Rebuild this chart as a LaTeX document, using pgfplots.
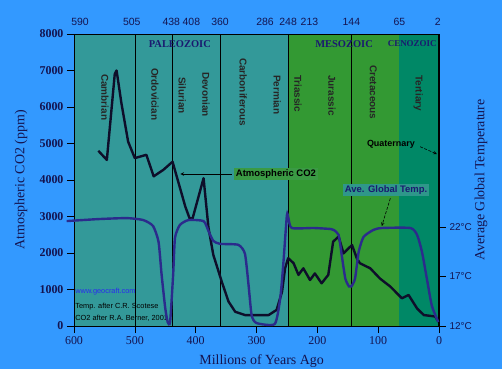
\documentclass[border=0pt]{standalone}
\usepackage{pgfplots}
\pgfplotsset{compat=1.18}
\usepackage{fontspec}
\setmainfont{Liberation Serif}
\setsansfont{Liberation Sans}
\definecolor{bgblue}{HTML}{3399FF}
\definecolor{paleo}{HTML}{339999}
\definecolor{meso}{HTML}{339933}
\definecolor{ceno}{HTML}{008866}
\definecolor{txtnavy}{HTML}{141450}
\definecolor{eranavy}{HTML}{1A1A70}
\definecolor{co2line}{HTML}{0E0E2A}
\definecolor{templine}{HTML}{2B2B8C}
\definecolor{labgreen}{HTML}{3A9A44}
\definecolor{labteal}{HTML}{2F978A}
\definecolor{linkblue}{HTML}{2A2AF0}

\pgfplotstableread{
x y
560 4800
546 4550
533 6900
530 7000
522 6100
511 5050
500 4600
481 4690
469 4100
453 4280
438 4500
417 3270
410 2950
405 2950
387 4050
379 2700
371 1950
357 1210
346 670
335 390
319 300
280 300
267 440
258 940
253 1580
248 1860
239 1720
231 1400
223 1580
212 1260
204 1440
193 1170
182 1400
174 2310
165 2450
157 1990
143 2220
135 1850
130 1720
113 1580
97 1300
80 1080
61 760
50 850
36 480
25 300
6 260
1 120
}\cotwo

\pgfplotstableread{
x t
612 22.6
560 22.8
513 22.9
486 22.7
470 22.1
461 20.5
456 17.2
450 13.8
446 12.4
442 12.4
437 17.2
434 20.9
426 22.2
412 22.7
387 22.6
379 21.6
371 20.6
360 20.3
330 20.2
319 19.3
313 16.1
308 13.1
300 12.3
270 12.2
261 14.8
256 18.2
250 23.2
247.5 22.9
242 21.9
206 21.9
178 21.8
173 21.7
165 21.2
160 19.2
154 16.8
148 16.0
144 16.0
138 16.8
132 19.5
124 21.0
108 21.7
94 21.9
47 21.9
36 21.2
28 19.5
20 16.8
12 14.1
4 12.8
1 12.4
}\temp

\begin{document}
\begin{tikzpicture}
\fill[bgblue] (-74bp,-43bp) rectangle (428bp,326bp);
\begin{axis}[
  at={(0,0)}, anchor=south west,
  scale only axis, width=365bp, height=292bp,
  xmin=0, xmax=600, x dir=reverse, ymin=0, ymax=8000,
  axis on top,
  xtick={0,100,...,600}, ytick={0,1000,...,8000},
  xtick pos=left, ytick pos=left,
  tick align=outside, major tick length=7bp,
  tick style={black, line width=0.6bp},
  axis line style={black, line width=0.6bp},
  /pgf/number format/1000 sep={},
  /pgf/number format/assume math mode=true,
  xticklabel style={font=\fontsize{12}{12}\selectfont, text=txtnavy},
  yticklabel style={font=\bfseries\fontsize{12}{12}\selectfont, text=txtnavy},
  xlabel={Millions of Years Ago}, ylabel={Atmospheric CO2 (ppm)},
  label style={font=\fontsize{14}{14}\selectfont, text=txtnavy},
  xlabel style={at={(axis description cs:0.514,-0.119)}, anchor=center},
  ylabel style={at={(axis description cs:-0.145,0.5)}, anchor=center},
]
\addplot[draw=none, fill=paleo] coordinates {(600,8000) (248,8000)} \closedcycle;
\addplot[draw=none, fill=meso] coordinates {(248,8000) (65,8000)} \closedcycle;
\addplot[draw=none, fill=ceno] coordinates {(65,8000) (0,8000)} \closedcycle;
\addplot[black, line width=0.6bp] coordinates {(500,0) (500,8000)};
\addplot[black, line width=0.6bp] coordinates {(438,0) (438,8000)};
\addplot[black, line width=0.6bp] coordinates {(360,0) (360,8000)};
\addplot[black, line width=0.6bp] coordinates {(248,0) (248,8000)};
\addplot[black, line width=0.6bp] coordinates {(144,0) (144,8000)};

\addplot[co2line, line width=2.4bp, line join=round] table[x=x, y=y] {\cotwo};

% era labels
\node[font=\bfseries\fontsize{10.5}{10.5}\selectfont, text=eranavy] at (axis cs:426,7726) {PALEOZOIC};
\node[font=\bfseries\fontsize{10.5}{10.5}\selectfont, text=eranavy] at (axis cs:156,7726) {MESOZOIC};
\node[font=\bfseries\fontsize{9}{9}\selectfont, text=eranavy] at (axis cs:44,7726) {CENOZOIC};

% period labels
\begin{scope}[every node/.style={rotate=-90, anchor=west, inner sep=0pt, font=\sffamily\bfseries\fontsize{10}{10}\selectfont, text=black!85}]
\node at (axis cs:549,6904) {Cambrian};
\node at (axis cs:467,7068) {Ordovician};
\node at (axis cs:422,6822) {Silurian};
\node at (axis cs:383,6959) {Devonian};
\node at (axis cs:322,7342) {Carboniferous};
\node at (axis cs:266,6877) {Permian};
\node at (axis cs:232,6877) {Triassic};
\node at (axis cs:176,6877) {Jurassic};
\node at (axis cs:108,7150) {Cretaceous};
\node at (axis cs:34,6877) {Tertiary};
\end{scope}

% annotations
\node[fill=labgreen, inner sep=2bp, font=\sffamily\bfseries\fontsize{9.5}{9.5}\selectfont, text=black] at (axis cs:268,4164) {Atmospheric CO2};
\draw[-stealth, black, line width=0.6bp] (axis cs:341,4164) -- (axis cs:425,4164);
\node[fill=labteal, inner sep=2bp, font=\sffamily\bfseries\fontsize{9.5}{9.5}\selectfont, text=eranavy] at (axis cs:87,3726) {Ave. Global Temp.};
\draw[-stealth, black, line width=0.6bp, dash pattern=on 3bp off 1.5bp] (axis cs:80,3498) -- (axis cs:94,2740);
\node[font=\sffamily\bfseries\fontsize{9}{9}\selectfont, text=black] at (axis cs:79,4986) {Quaternary};
\draw[-stealth, black, line width=0.6bp, dash pattern=on 3bp off 1.5bp] (axis cs:31,4912) -- (axis cs:3.5,4712);

% sources
\node[anchor=west, inner sep=0pt, font=\sffamily\fontsize{7.4}{7.4}\selectfont, text=linkblue] at (axis cs:598,931) {www.geocraft.com};
\node[anchor=west, inner sep=0pt, font=\sffamily\fontsize{7.4}{7.4}\selectfont, text=black] at (axis cs:598,520) {Temp. after C.R. Scotese};
\node[anchor=west, inner sep=0pt, font=\sffamily\fontsize{7.4}{7.4}\selectfont, text=black] at (axis cs:598,219) {CO2 after R.A. Berner, 2001};
\end{axis}

\begin{axis}[
  at={(0,0)}, anchor=south west,
  scale only axis, width=365bp, height=292bp,
  xmin=0, xmax=600, x dir=reverse, ymin=12, ymax=41.5,
  axis x line*=top, axis y line*=right,
  clip=false,
  xtick={590,505,440,407,360,286,248,213,144,65,2},
  xticklabels={590,505,438,408,360,286,248,213,144,65,2},
  x tick style={draw=none},
  ytick={12,17,22},
  yticklabels={12°C,17°C,22°C},
  tick align=outside, major tick length=7bp,
  y tick style={black, line width=0.6bp},
  x axis line style={black, line width=0.6bp},
  y axis line style={black, line width=2.5bp},
  xticklabel style={font=\sffamily\fontsize{10.5}{10.5}\selectfont, text=txtnavy, inner sep=1.5bp},
  yticklabel style={font=\sffamily\fontsize{10}{10}\selectfont, text=txtnavy},
  ylabel={Average Global Temperature},
  ylabel style={font=\fontsize{14}{14}\selectfont, text=txtnavy, at={(axis description cs:1.115,0.5)}, anchor=center},
]
\addplot[templine, line width=2.4bp, smooth, tension=0.35] table[x=x, y=t] {\temp};
\end{axis}
\pgfresetboundingbox
\path[use as bounding box] (-74bp,-43bp) rectangle (428bp,326bp);
\end{tikzpicture}
\end{document}
